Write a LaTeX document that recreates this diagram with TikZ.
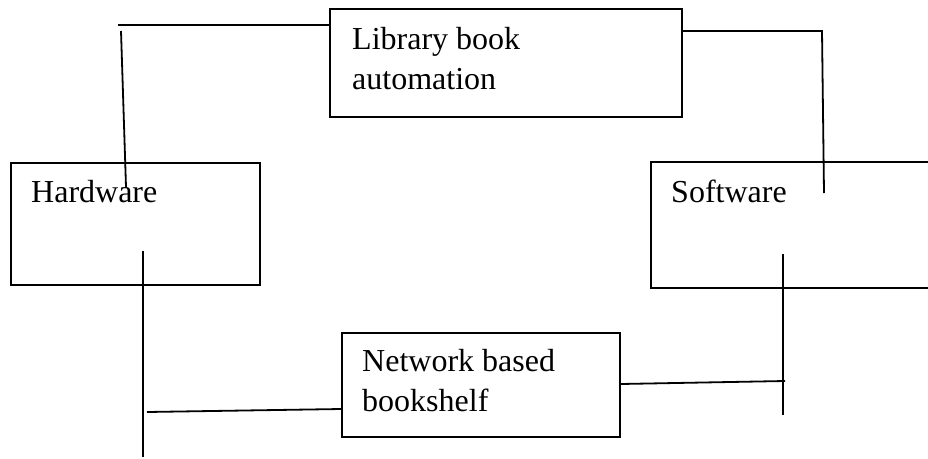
\documentclass[tikz,border=0pt]{standalone}
\usepackage{fontspec}
\setmainfont{Liberation Serif}
\begin{document}
\begin{tikzpicture}[x=1pt,y=-1pt,
  box/.style={draw=black,line width=1.8pt,rectangle,inner sep=0pt,minimum width=#1},
  txt/.style={anchor=base west,inner sep=0pt,align=left,font=\fontsize{32}{39.5}\selectfont},
  wire/.style={draw=black,line width=1.8pt}]
\useasboundingbox (0,0) rectangle (928,458);
\clip (0,0) rectangle (928,458);
\fill[white] (0,0) rectangle (928,458);
% boxes
\node[box=352pt,minimum height=108pt,anchor=north west] (lib) at (329,8) {};
\node[box=249pt,minimum height=122pt,anchor=north west] (hw) at (10,162) {};
\node[box=300pt,minimum height=126pt,anchor=north west] (sw) at (650,161) {};
\node[box=278pt,minimum height=104pt,anchor=north west] (net) at (341,332) {};
% texts (base = baseline of the last line)
\node[txt] (libt) at (352,89) {Library book\\automation};
\node[txt] (hwt) at (31,202) {Hardware};
\node[txt] (swt) at (671,202) {Software};
\node[txt] (nett) at (362,411) {Network based\\bookshelf};
% free ends
\coordinate (a1) at (118,25);
\coordinate (a2) at (121,31);
\coordinate (a3) at (126,187);
\coordinate (b1) at (822,31);
\coordinate (b2) at (824,193);
\coordinate (c1) at (143,251);
\coordinate (c2) at (143,457);
\coordinate (c3) at (147,412);
\coordinate (d1) at (783,254);
\coordinate (d2) at (783,415);
\coordinate (d3) at (785,381);
% connectors
\draw[wire] (lib.west |- a1) -- (a1);
\draw[wire] (a2) -- (a3);
\draw[wire] (lib.east |- b1) -- (b1) -- (b2);
\draw[wire] (c1) -- (c2);
\draw[wire] (c3) -- (net.west |- 0,409);
\draw[wire] (d1) -- (d2);
\draw[wire] (net.east |- 0,384) -- (d3);
\end{tikzpicture}
\end{document}
